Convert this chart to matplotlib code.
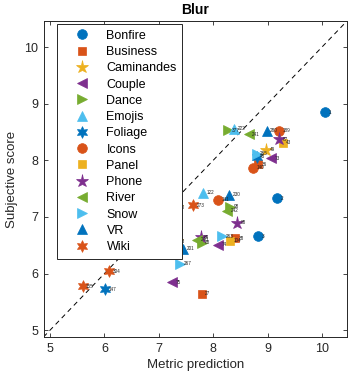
import numpy as np
import matplotlib
matplotlib.use("Agg")
import matplotlib.pyplot as plt

plt.rcParams['font.family'] = ['Liberation Sans', 'DejaVu Sans']

categories = ["Bonfire", "Business", "Caminandes", "Couple", "Dance", "Emojis",
              "Foliage", "Icons", "Panel", "Phone", "River", "Snow", "VR", "Wiki"]

# metric prediction (x), subjective score (y), point labels per category
x_vals = {
    "Bonfire":    [10.06, 9.18, 8.83],
    "Business":   [7.79, 8.40, 8.83],
    "Caminandes": [8.97, 7.33, 7.33],
    "Couple":     [9.06, 8.09, 7.24],
    "Dance":      [8.27, 8.31, 7.79],
    "Emojis":     [8.38, 7.81],
    "Foliage":    [8.80, 6.01],
    "Icons":      [9.21, 8.74, 8.09],
    "Panel":      [9.28, 8.31],
    "Phone":      [9.21, 8.44, 7.77],
    "River":      [8.65, 8.26, 7.70],
    "Snow":       [8.80, 8.16, 7.39],
    "VR":         [8.98, 8.29, 7.45],
    "Wiki":       [7.63, 6.09, 5.60],
}
y_vals = {
    "Bonfire":    [8.85, 7.33, 6.66],
    "Business":   [5.64, 6.62, 7.93],
    "Caminandes": [8.19, 7.17, 6.57],
    "Couple":     [8.04, 6.51, 5.85],
    "Dance":      [8.53, 7.18, 6.54],
    "Emojis":     [8.56, 7.43],
    "Foliage":    [8.06, 5.72],
    "Icons":      [8.52, 7.87, 7.30],
    "Panel":      [8.31, 6.58],
    "Phone":      [8.37, 6.90, 6.64],
    "River":      [8.46, 7.11, 6.60],
    "Snow":       [8.12, 6.66, 6.17],
    "VR":         [8.52, 7.39, 6.44],
    "Wiki":       [7.21, 6.04, 5.78],
}
point_labels = {
    "Bonfire":    ["1", "2", "3"],
    "Business":   ["27", "38", "36"],
    "Caminandes": ["49", "50", "53"],
    "Couple":     ["73", "74", "75"],
    "Dance":      ["377", "98", "88"],
    "Emojis":     ["222", "122"],
    "Foliage":    ["45", "147"],
    "Icons":      ["189", "140", "141"],
    "Panel":      ["43", "104"],
    "Phone":      ["87", "88", "89"],
    "River":      ["241", "242", "240"],
    "Snow":       ["265", "263", "267"],
    "VR":         ["280", "230", "201"],
    "Wiki":       ["273", "304", "155"],
}

hexagram = (6, 1, 0)
styles = {
    "Bonfire":    ("o", "#0072BD", 7),
    "Business":   ("s", "#D95319", 6),
    "Caminandes": ("*", "#EDB120", 9.5),
    "Couple":     ("<", "#7E2F8E", 7.5),
    "Dance":      (">", "#77AC30", 7.5),
    "Emojis":     ("^", "#4DBEEE", 7.5),
    "Foliage":    (hexagram, "#0072BD", 8.5),
    "Icons":      ("o", "#D95319", 7),
    "Panel":      ("s", "#EDB120", 6),
    "Phone":      ("*", "#7E2F8E", 9.5),
    "River":      ("<", "#77AC30", 7.5),
    "Snow":       (">", "#4DBEEE", 7.5),
    "VR":         ("^", "#0072BD", 7.5),
    "Wiki":       (hexagram, "#D95319", 8.5),
}

fig = plt.figure(figsize=(3.51, 3.85), dpi=100)
ax = fig.add_axes([43.5/351, 48/385, (347-43.5)/351, (337-21)/385])

lim = (4.88, 10.46)
ax.plot(lim, lim, linestyle=(0, (5, 4)), color="black", lw=0.7, zorder=1)

for cat in categories:
    m, c, s = styles[cat]
    ax.plot(x_vals[cat], y_vals[cat], linestyle="none", marker=m, color=c,
            markersize=s, markeredgewidth=0.5, label=cat, zorder=3)
    for xx, yy, lab in zip(x_vals[cat], y_vals[cat], point_labels[cat]):
        ax.annotate(lab, (xx, yy), xytext=(2.5, 0), textcoords="offset points",
                    fontsize=3.3, ha="left", va="center", color="#222222", zorder=4)

ax.set_xlim(lim)
ax.set_ylim(lim)
ax.set_xticks([5, 6, 7, 8, 9, 10])
ax.set_yticks([5, 6, 7, 8, 9, 10])
ax.tick_params(direction="in", length=3, width=0.6, top=True, right=True,
               labelsize=9, colors="#262626", pad=4)
for sp in ax.spines.values():
    sp.set_linewidth(0.7)
    sp.set_color("#262626")

ax.set_xlabel("Metric prediction", fontsize=9.5, color="#262626", labelpad=3)
ax.set_ylabel("Subjective score", fontsize=9.5, color="#262626", labelpad=4)
ax.set_title("Blur", fontsize=10, fontweight="bold", pad=5)

leg = ax.legend(loc="upper left", bbox_to_anchor=(0.044, 0.99), borderaxespad=0,
                fontsize=9, frameon=True, fancybox=False, edgecolor="#262626",
                framealpha=1, handlelength=3.2, handletextpad=0.32,
                labelspacing=0.34, borderpad=0.45, numpoints=1)
leg.get_frame().set_linewidth(0.7)
leg.set_zorder(10)

fig.savefig("out.png", dpi=100)
